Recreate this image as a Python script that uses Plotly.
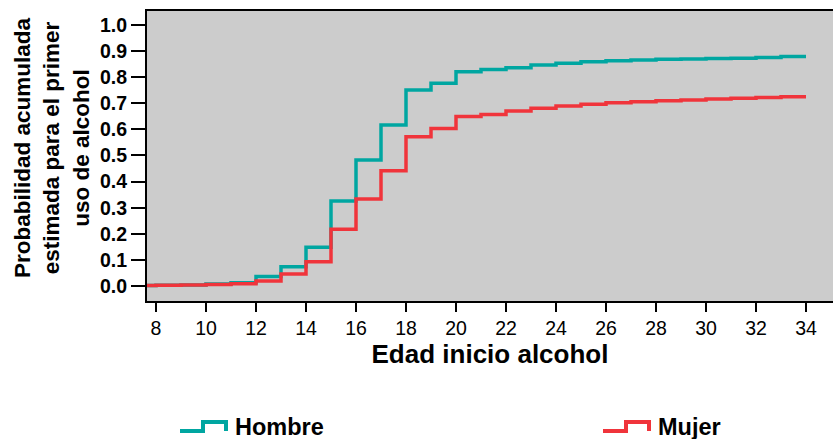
import plotly.graph_objects as go

# Data
edad = [7, 8, 9, 10, 11, 12, 13, 14, 15, 16, 17, 18, 19, 20, 21, 22, 23, 24, 25, 26, 27, 28, 29, 30, 31, 32, 33, 34]
hombre = [0.002, 0.003, 0.004, 0.008, 0.012, 0.036, 0.074, 0.148, 0.326, 0.483, 0.617, 0.751, 0.777, 0.821,
          0.829, 0.836, 0.847, 0.853, 0.859, 0.863, 0.866, 0.869, 0.870, 0.872, 0.873, 0.875, 0.879, 0.879]
mujer = [0.002, 0.003, 0.004, 0.006, 0.009, 0.019, 0.046, 0.093, 0.217, 0.333, 0.442, 0.572, 0.603, 0.649,
         0.657, 0.670, 0.681, 0.690, 0.696, 0.702, 0.706, 0.710, 0.713, 0.716, 0.719, 0.722, 0.725, 0.725]
series_names = ["Hombre", "Mujer"]
x_ticks = [8, 10, 12, 14, 16, 18, 20, 22, 24, 26, 28, 30, 32, 34]
y_ticks = [0.0, 0.1, 0.2, 0.3, 0.4, 0.5, 0.6, 0.7, 0.8, 0.9, 1.0]

TEAL = "#00A6A1"
RED = "#F0343B"
COLORS = [TEAL, RED]
FONT = "Liberation Sans, Arial, sans-serif"

W, H = 833, 439
ML, MR, MT, MB = 147, 0, 11, 138
PW, PH = W - ML - MR, H - MT - MB


def px(x):
    return (x - ML) / PW


def py(y):
    return (H - MB - y) / PH


fig = go.Figure()
for name, vals, col in zip(series_names, [hombre, mujer], COLORS):
    fig.add_trace(go.Scatter(x=edad, y=vals, mode="lines", name=name,
                             line=dict(color=col, width=3.5, shape="hv")))

# Custom legend with step-shaped glyphs
shapes = []
annotations = []
for name, col, x0 in zip(series_names, COLORS, [180, 603]):
    path = (f"M {px(x0)},{py(431)} L {px(x0 + 23)},{py(431)} L {px(x0 + 23)},{py(422)} "
            f"L {px(x0 + 46)},{py(422)} L {px(x0 + 46)},{py(431)}")
    shapes.append(dict(type="path", xref="paper", yref="paper", path=path,
                       line=dict(color=col, width=4)))
    annotations.append(dict(text=f"<b>{name}</b>", xref="paper", yref="paper",
                            x=px(x0 + 53), y=py(427), xanchor="left", yanchor="middle",
                            showarrow=False, font=dict(family=FONT, size=23.5, color="black")))

annotations.append(dict(text="<b>Probabilidad acumulada<br>estimada para el primer<br>uso de alcohol</b>",
                        textangle=-90, xref="paper", yref="paper", x=px(96), y=py(148),
                        xanchor="right", yanchor="middle", showarrow=False,
                        font=dict(family=FONT, size=22.5, color="black")))

fig.update_layout(
    width=W, height=H,
    margin=dict(l=ML, r=MR, t=MT, b=MB),
    paper_bgcolor="white",
    plot_bgcolor="#CCCCCC",
    font=dict(family=FONT, color="black"),
    showlegend=False,
    xaxis=dict(range=[7.64, 35.08], tickvals=x_ticks, ticktext=[str(v) for v in x_ticks],
               showgrid=False, zeroline=False, showline=True, linecolor="black", linewidth=2,
               mirror=True, ticks="outside", ticklen=9, tickwidth=2, tickcolor="black",
               tickfont=dict(family=FONT, size=19.5, color="black"),
               title=dict(text="<b>Edad inicio alcohol</b>", font=dict(family=FONT, size=26, color="black"),
                          standoff=5)),
    yaxis=dict(range=[-0.0575, 1.0536], tickvals=y_ticks, ticktext=[f"{v:.1f}" for v in y_ticks],
               showgrid=False, zeroline=False, showline=True, linecolor="black", linewidth=2,
               ticks="outside", ticklen=14, tickwidth=2, tickcolor="black",
               tickfont=dict(family=FONT, size=19.5, color="black", weight="bold")),
    shapes=shapes,
    annotations=annotations,
)

fig.write_html("out.html", config={"displayModeBar": False},
               post_script="document.body.style.margin='0';document.body.style.overflow='hidden';")
